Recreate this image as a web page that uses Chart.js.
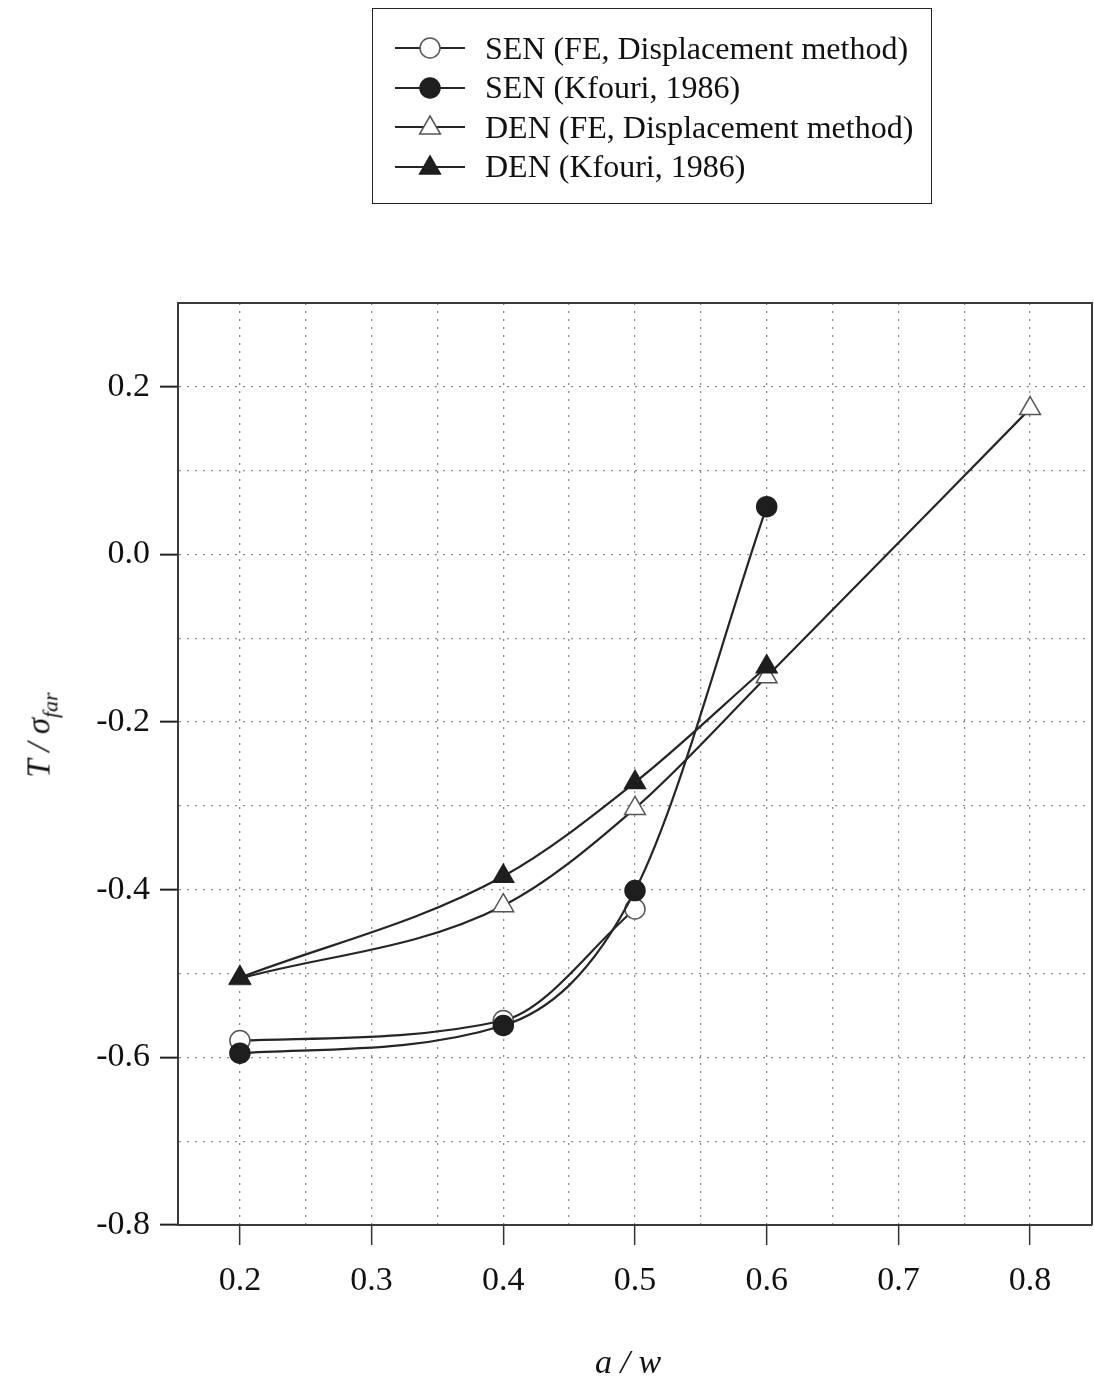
<!DOCTYPE html>
<html>
<head>
<meta charset="utf-8">
<script src="https://cdn.jsdelivr.net/npm/chart.js@4.4.0/dist/chart.umd.min.js"></script>
<style>
  html, body { margin: 0; padding: 0; background: #fff; }
  #wrap { position: relative; width: 1094px; height: 1383px; overflow: hidden; }
  #c { position: absolute; left: 0; top: 0; }
  .serif { font-family: 'Liberation Serif', 'Times New Roman', 'DejaVu Serif', serif; color: #111; }
  #legend { position: absolute; left: 372px; top: 8px; width: 558px; height: 194px; border: 1.5px solid #222; box-sizing: content-box; }
  .row { position: absolute; left: 0; height: 40px; display: flex; align-items: center; font-size: 32px; white-space: nowrap; }
  .row svg { margin-left: 22px; margin-right: 20px; }
  #ytitle { position: absolute; left: 42px; top: 735px; transform: translate(-50%, -50%) rotate(-90deg); font-size: 33px; font-style: italic; white-space: nowrap; }
  #ytitle sub { font-size: 22px; vertical-align: -8px; }
  #xtitle { position: absolute; left: 628px; top: 1362px; transform: translate(-50%, -50%); font-size: 34px; font-style: italic; white-space: nowrap; }
</style>
</head>
<body>
<div id="wrap">
  <canvas id="c" width="1094" height="1383"></canvas>
  <div id="legend" class="serif"></div>
  <div id="ytitle" class="serif">T / σ<sub>far</sub></div>
  <div id="xtitle" class="serif">a / w</div>
</div>
<script>
// ---- data ----
const seriesNames = ['SEN (FE, Displacement method)', 'SEN (Kfouri, 1986)', 'DEN (FE, Displacement method)', 'DEN (Kfouri, 1986)'];
const senFE_x = [0.2, 0.4, 0.5];
const senFE_y = [-0.580, -0.556, -0.423];
const senKf_x = [0.2, 0.4, 0.5, 0.6];
const senKf_y = [-0.595, -0.562, -0.401, 0.057];
const denFE_x = [0.2, 0.4, 0.5, 0.6, 0.8];
const denFE_y = [-0.506, -0.419, -0.303, -0.146, 0.174];
const denKf_x = [0.2, 0.4, 0.5, 0.6];
const denKf_y = [-0.505, -0.384, -0.272, -0.134];
const xGridValues = [0.2, 0.25, 0.3, 0.35, 0.4, 0.45, 0.5, 0.55, 0.6, 0.65, 0.7, 0.75, 0.8];
const xTickLabels = ['0.2', '0.3', '0.4', '0.5', '0.6', '0.7', '0.8'];
const yGridValues = [-0.8, -0.7, -0.6, -0.5, -0.4, -0.3, -0.2, -0.1, 0.0, 0.1, 0.2, 0.3];
const yTickLabels = ['-0.8', '-0.6', '-0.4', '-0.2', '0.0', '0.2'];

const pts = (xs, ys) => xs.map((x, i) => ({ x: x, y: ys[i] }));
const LINE = '#252525', DARK = '#1e1e1e', OPEN = '#555';
const FONT = "'Liberation Serif', 'Times New Roman', serif";

// returns the label text if the value is one of the labelled ticks, else ''
function labelFor(v, labels) {
  const hundredths = Math.round(v * 100);
  if (hundredths % 10 !== 0) return '';
  const s = (hundredths / 100).toFixed(1);
  return labels.includes(s) ? s : '';
}

const datasets = [
  { label: seriesNames[0], data: pts(senFE_x, senFE_y), pointStyle: 'circle', pointRadius: 10, backgroundColor: '#fff', pointBackgroundColor: '#fff', pointBorderColor: OPEN, pointBorderWidth: 1.5, order: 2 },
  { label: seriesNames[1], data: pts(senKf_x, senKf_y), pointStyle: 'circle', pointRadius: 10, backgroundColor: DARK, pointBackgroundColor: DARK, pointBorderColor: DARK, pointBorderWidth: 1.5, order: 1 },
  { label: seriesNames[2], data: pts(denFE_x, denFE_y), pointStyle: 'triangle', pointRadius: 12, backgroundColor: '#fff', pointBackgroundColor: '#fff', pointBorderColor: OPEN, pointBorderWidth: 1.5, order: 2 },
  { label: seriesNames[3], data: pts(denKf_x, denKf_y), pointStyle: 'triangle', pointRadius: 12, backgroundColor: DARK, pointBackgroundColor: DARK, pointBorderColor: DARK, pointBorderWidth: 1.5, order: 1 }
].map(d => Object.assign({ borderColor: LINE, borderWidth: 2.2, cubicInterpolationMode: 'monotone', fill: false, showLine: true }, d));

const frame = {
  id: 'frame',
  afterDraw(chart) {
    const a = chart.chartArea, ctx = chart.ctx;
    ctx.save();
    ctx.strokeStyle = '#3a3a3a';
    ctx.lineWidth = 2;
    ctx.beginPath();
    ctx.moveTo(a.left, a.top); ctx.lineTo(a.right, a.top); ctx.lineTo(a.right, a.bottom);
    ctx.stroke();
    ctx.restore();
  }
};

const chart = new Chart(document.getElementById('c'), {
  type: 'scatter',
  data: { datasets },
  options: {
    responsive: false,
    devicePixelRatio: 1,
    animation: false,
    layout: { autoPadding: false, padding: { top: 303, right: 2, left: 0, bottom: 0 } },
    plugins: { legend: { display: false }, tooltip: { enabled: false } },
    scales: {
      x: {
        type: 'linear', min: 0.153, max: 0.847,
        afterBuildTicks: ax => { ax.ticks = xGridValues.map(v => ({ value: v })); },
        afterFit: sc => { sc.height = 158; sc.paddingLeft = 0; sc.paddingRight = 0; },
        ticks: { autoSkip: false, maxRotation: 0, padding: 16, color: '#111', font: { family: FONT, size: 34 },
                 callback: v => labelFor(v, xTickLabels) },
        grid: { color: '#8a8a8a', lineWidth: 1.3, tickLength: 20, tickWidth: 1.5, tickBorderDash: [],
                tickColor: c => (c.tick && labelFor(c.tick.value, xTickLabels)) ? '#333' : 'rgba(0,0,0,0)' },
        border: { display: true, color: '#3a3a3a', width: 2, dash: [2, 6] }
      },
      y: {
        type: 'linear', min: -0.8, max: 0.3,
        afterBuildTicks: ax => { ax.ticks = yGridValues.map(v => ({ value: v })); },
        afterFit: sc => { sc.width = 178; sc.paddingTop = 0; sc.paddingBottom = 0; },
        ticks: { autoSkip: false, padding: 10, color: '#111', font: { family: FONT, size: 34 },
                 callback: v => labelFor(v, yTickLabels) },
        grid: { color: '#8a8a8a', lineWidth: 1.3, tickLength: 18, tickWidth: 2, tickBorderDash: [],
                tickColor: c => (c.tick && labelFor(c.tick.value, yTickLabels)) ? '#222' : 'rgba(0,0,0,0)' },
        border: { display: true, color: '#3a3a3a', width: 2, dash: [2, 6] }
      }
    }
  },
  plugins: [frame]
});

// ---- legend built from the chart's datasets ----
const legend = document.getElementById('legend');
chart.data.datasets.forEach((ds, i) => {
  const row = document.createElement('div');
  row.className = 'row';
  row.style.top = (19 + i * 39.5) + 'px';
  let marker;
  if (ds.pointStyle === 'circle') {
    marker = `<circle cx="35" cy="20" r="10" fill="${ds.pointBackgroundColor}" stroke="${ds.pointBorderColor}" stroke-width="1.5"/>`;
  } else {
    marker = `<polygon points="35,9 45.4,27 24.6,27" fill="${ds.pointBackgroundColor}" stroke="${ds.pointBorderColor}" stroke-width="1.5"/>`;
  }
  row.innerHTML = `<svg width="70" height="40"><line x1="0" y1="20" x2="70" y2="20" stroke="${ds.borderColor}" stroke-width="2"/>${marker}</svg><span>${ds.label}</span>`;
  legend.appendChild(row);
});
</script>
</body>
</html>
